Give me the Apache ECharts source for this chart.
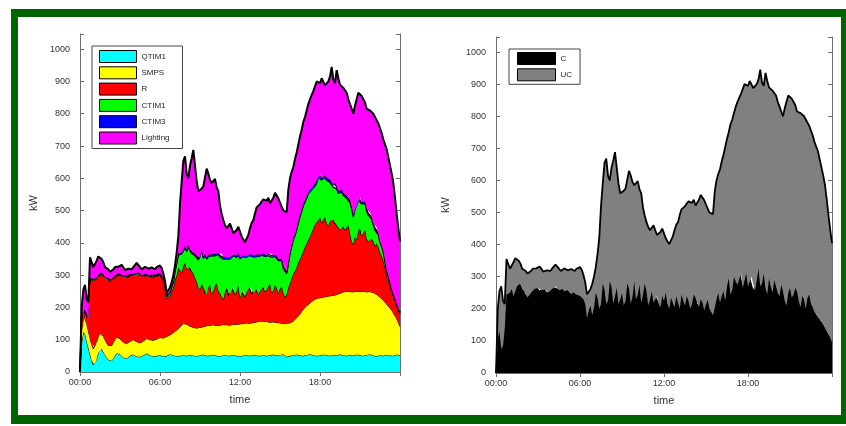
<!DOCTYPE html>
<html><head><meta charset="utf-8">
<script src="https://cdn.jsdelivr.net/npm/echarts@6/dist/echarts.min.js"></script>
<style>html,body{margin:0;padding:0;background:#fff}#c{width:846px;height:426px}</style>
</head><body><div id="c"></div>
<script>
// time categories: 7.5-minute samples over 24 h (193 samples, 00:00 .. 24:00)
const times = [];
for (let k = 0; k <= 192; k++) {
  const m = Math.floor(k * 7.5);
  times.push(String(Math.floor(m / 60)).padStart(2, '0') + ':' + String(m % 60).padStart(2, '0'));
}

// ---- left chart series (kW), one line per hour ----
const qtim1 = [
0,90,125,118,95,75,55,35, 22,25,40,60,75,72,62,53, 45,38,33,35,42,50,58,58, 55,50,45,42,42,46,50,53,
54,51,48,47,47,50,52,55, 57,54,52,50,48,49,50,52, 53,50,48,49,50,53,55,54, 52,50,49,49,50,51,52,51,
50,52,53,52,51,50,49,50, 52,53,54,52,50,50,51,52, 53,51,50,50,49,50,52,52, 51,50,50,51,53,52,50,50,
49,50,51,52,52,51,50,52, 53,52,51,50,50,51,52,51, 50,51,52,53,54,52,51,52, 53,54,55,51,47,48,50,51,
52,53,54,52,51,50,50,52, 53,54,55,53,52,51,50,50, 51,53,54,53,52,51,50,52, 53,52,51,53,55,54,52,51,
50,52,53,52,51,53,54,53, 52,51,50,52,53,54,55,53, 51,50,49,50,52,51,50,52, 53,52,51,50,50,52,54,53, 52];
const smps = [
0,40,55,57,55,53,50,50, 50,53,55,50,47,48,48,47, 45,44,45,47,50,51,50,49, 48,47,47,47,46,45,45,45,
46,46,46,44,43,43,44,45, 47,48,48,48,50,51,52,53, 54,56,57,58,60,59,60,64, 70,76,81,86,90,94,98,100,
98,93,89,87,87,86,87,87, 86,86,86,90,93,94,94,94, 93,94,94,94,96,96,95,95, 95,95,95,96,95,96,97,98,
100,100,99,99,100,100,101,100, 100,102,104,107,108,107,105,105, 106,104,102,101,101,102,102,100, 99,97,95,99,104,104,102,104,
106,110,114,122,129,138,145,148, 152,156,159,165,170,174,178,179, 179,178,178,180,182,184,186,184, 184,186,189,189,189,192,196,198,
200,198,196,196,197,196,196,197, 197,199,200,197,195,194,194,195, 195,193,191,186,180,176,172,164, 157,152,147,141,133,122,111,100, 88];
const rLoad = [
0,50,20,20,20,37,185,202, 211,210,195,187,178,183,186,190, 202,204,202,202,198,195,190,194, 197,200,204,202,205,206,203,203,
202,202,211,212,210,203,201,201, 195,193,196,201,196,197,196,197, 193,190,180,155,118,120,123,132, 140,159,170,187,175,163,180,187,
170,183,183,173,167,156,144,125, 117,136,122,103,97,118,125,96, 104,123,131,108,100,86,78,101, 114,93,95,115,117,92,103,120,
81,100,105,81,96,119,114,88, 92,108,103,83,92,112,108,92, 99,110,121,91,97,116,107,93, 106,114,95,82,89,110,123,135,
147,149,157,166,170,174,180,188, 193,200,206,214,223,233,237,241, 250,231,240,247,226,217,232,242, 235,222,215,206,196,212,204,191,
198,205,181,157,147,171,160,188, 196,172,180,191,164,157,169,164, 159,147,158,152,138,133,123,109, 90,81,70,59,52,48,40,39, 40];
const ctim1 = [
0,0,0,0,0,1,2,3, 3,2,2,3,3,4,4,3, 3,2,2,3,3,2,3,3, 2,3,3,4,4,3,3,2,
2,3,3,4,3,3,4,2, 3,3,2,2,3,3,3,2, 2,3,3,4,5,6,8,12, 15,25,35,40,50,58,45,48,
55,62,50,55,60,68,75,85, 95,100,90,115,110,95,85,118, 105,92,90,112,110,128,125,105, 90,118,110,92,95,118,105,95,
120,108,100,125,105,92,95,118, 110,95,100,118,108,92,95,110, 102,95,88,110,105,88,95,100, 85,80,75,85,65,72,90,98,
105,110,115,122,130,135,140,138, 140,142,138,132,125,118,120,135, 125,132,130,120,135,140,118,105, 100,118,112,105,115,100,95,102,
90,82,95,100,85,92,100,95, 90,98,92,82,85,80,70,62, 50,48,45,38,30,28,25,18, 12,10,8,7,6,5,5,5, 4];
const ctim3 = [
0,0,0,0,0,0,1,2, 2,1,1,2,2,2,2,1, 1,2,2,1,2,2,1,2, 2,1,2,2,1,2,2,1,
2,2,1,2,2,1,2,2, 1,2,2,1,2,2,1,2, 2,2,2,2,2,3,3,3, 3,4,4,5,5,4,4,5,
5,4,4,5,5,6,6,5, 5,6,6,5,5,6,6,5, 5,6,6,5,5,6,6,5, 5,6,6,5,5,6,6,5,
5,6,6,5,5,6,6,5, 5,6,6,5,5,6,6,5, 5,6,6,5,5,6,6,5, 5,6,6,5,5,6,6,5,
5,6,6,7,7,6,6,7, 7,7,6,7,7,8,8,7, 7,8,8,7,7,8,8,7, 7,8,8,7,7,7,6,7,
7,6,6,7,7,6,6,7, 7,6,6,7,7,6,6,5, 5,5,5,4,4,4,4,3, 3,3,3,2,2,2,2,2, 2];
const lighting = [
0,20,55,75,55,49,62,68, 37,44,52,56,57,41,38,31, 32,28,26,27,23,25,20,20, 26,31,25,19,20,18,19,14,
19,26,29,31,20,18,19,21, 22,20,22,22,21,16,23,24, 26,21,15,14,10,7,13,13, 20,16,31,53,150,220,276,277,
237,206,261,290,318,274,229,208, 200,187,217,215,275,252,234,220, 225,232,201,191,155,124,114,97, 90,86,104,86,65,64,79,82,
80,56,49,40,47,57,79,99, 110,129,146,152,157,160,169,167, 168,174,153,160,178,191,189,188, 177,161,174,176,185,225,229,227,
220,232,234,236,243,247,254,257, 265,271,281,287,293,301,307,293, 283,308,295,281,288,300,321,355, 326,309,360,350,328,320,327,326,
320,302,299,303,313,307,329,325, 320,329,322,306,311,329,316,326, 340,347,337,340,351,348,346,359, 375,367,361,356,342,311,278,246, 219];

// ---- right chart series (kW) ----
const cLoad = [
0,110,130,75,85,140,245,255, 250,262,240,255,270,285,280,262, 255,240,235,245,250,258,262,268, 265,255,258,265,260,250,252,258,
262,266,270,262,258,265,262,255, 255,258,250,245,252,248,245,242, 240,235,230,215,172,195,210,180, 205,250,235,200,215,280,260,215,
225,285,270,215,240,265,215,230, 250,210,225,280,265,215,240,285, 230,245,275,220,245,280,255,210, 230,255,220,240,240,215,205,240,
225,250,215,200,235,220,205,240, 220,200,245,225,210,240,225,200, 215,245,235,210,205,230,220,195, 215,228,200,190,180,205,230,250,
220,240,255,225,270,295,245,260, 300,285,275,315,310,265,290,310, 270,295,300,255,255,290,325,270, 280,310,265,245,295,270,250,290,
270,250,240,275,255,225,210,250, 265,235,245,265,255,225,205,240, 230,200,235,245,215,205,190,180, 175,165,160,150,140,130,120,110, 95];
const ucLoad = [
0,90,125,195,140,75,110,105, 75,73,105,103,92,65,60,63, 73,78,75,70,68,67,60,58, 65,77,68,51,58,70,70,60,
63,64,68,78,67,53,60,71, 70,62,72,79,68,70,80,88, 90,87,75,67,73,53,52,98, 95,80,135,220,305,310,395,453,
390,315,370,447,448,375,375,330, 305,358,350,300,365,400,355,300, 355,353,297,340,270,210,215,245, 215,193,240,205,190,213,235,210,
210,170,195,202,170,205,240,222, 250,292,265,290,310,288,310,330, 315,295,287,310,335,325,330,343, 310,284,300,308,315,360,370,370,
415,420,425,480,460,455,530,530, 510,545,570,543,560,620,610,595, 625,615,605,633,635,610,590,675, 625,585,670,665,595,615,630,585,
595,595,590,540,545,600,635,615, 597,620,605,570,560,595,605,565, 570,590,550,525,540,535,530,525, 515,500,480,465,445,410,370,335, 310];

const leftNames = ['QTIM1','SMPS','R','CTIM1','CTIM3','Lighting'];
const leftColors = ['#00FFFF','#FFFF00','#FF0000','#00FF00','#0000FF','#FF00FF'];
const leftLineW = [1, 1, 1.3, 1.3, 1.3, 2];
const leftData = [qtim1, smps, rLoad, ctim1, ctim3, lighting];
const rightNames = ['C','UC'];
const rightColors = ['#000000','#808080'];
const rightLineW = [1, 1.8];
const rightData = [cLoad, ucLoad];
const yMax = 1047;

const FONT = '"Liberation Sans", Arial, sans-serif';
const frameColor = '#6e6e6e';
const showIdx = (i) => i % 48 === 0 && i < 192;
const tickIdx = (i) => i % 48 === 0;

function xAxes(g) {
  return [
    { gridIndex: g, type: 'category', data: times, boundaryGap: false,
      axisLine: { lineStyle: { color: frameColor, width: 1 } },
      axisTick: { inside: true, length: 4, interval: tickIdx, lineStyle: { color: frameColor } },
      axisLabel: { interval: showIdx, fontSize: 9, color: '#333', margin: 6, fontFamily: FONT },
      name: 'time', nameLocation: 'middle', nameGap: 22,
      nameTextStyle: { fontSize: 11, color: '#333', fontFamily: FONT },
      splitLine: { show: false } },
    { gridIndex: g, type: 'category', data: times, boundaryGap: false, position: 'top',
      axisLine: { lineStyle: { color: frameColor, width: 1 } },
      axisTick: { inside: true, length: 4, interval: tickIdx, lineStyle: { color: frameColor } },
      axisLabel: { show: false }, splitLine: { show: false } }
  ];
}
function yAxes(g, gap) {
  return [
    { gridIndex: g, type: 'value', min: 0, max: yMax, interval: 100,
      axisLine: { show: true, lineStyle: { color: frameColor, width: 1 } },
      axisTick: { show: true, inside: true, length: 4, lineStyle: { color: frameColor } },
      axisLabel: { fontSize: 9, color: '#333', margin: 10, fontFamily: FONT,
        formatter: (v) => (v % 100 === 0 ? String(v) : '') },
      splitLine: { show: false },
      name: 'kW', nameLocation: 'middle', nameGap: gap,
      nameTextStyle: { fontSize: 11, color: '#333', fontFamily: FONT } },
    { gridIndex: g, type: 'value', min: 0, max: yMax, interval: 100, position: 'right',
      axisLine: { show: true, lineStyle: { color: frameColor, width: 1 } },
      axisTick: { show: true, inside: true, length: 4, lineStyle: { color: frameColor } },
      axisLabel: { show: false }, splitLine: { show: false } }
  ];
}

const series = [];
leftNames.forEach((n, k) => {
  series.push({
    name: n, type: 'line', stack: 'left', xAxisIndex: 0, yAxisIndex: 0,
    data: leftData[k], symbol: 'none', smooth: false,
    itemStyle: { color: leftColors[k] },
    lineStyle: { color: '#000', width: leftLineW[k] },
    areaStyle: { color: leftColors[k], opacity: 1 },
    z: 2 + k
  });
});
rightNames.forEach((n, k) => {
  series.push({
    name: n, type: 'line', stack: 'right', xAxisIndex: 2, yAxisIndex: 2,
    data: rightData[k], symbol: 'none',
    itemStyle: { color: rightColors[k] },
    lineStyle: { color: '#000', width: rightLineW[k] },
    areaStyle: { color: rightColors[k], opacity: 1 },
    z: 2 + k
  });
});

const legendBase = {
  orient: 'vertical', icon: 'rect', itemHeight: 12, itemGap: 3.3,
  borderColor: '#444', borderWidth: 1, backgroundColor: '#fff', selectedMode: false,
  textStyle: { fontSize: 8, color: '#222', fontFamily: FONT },
  itemStyle: { borderColor: '#000', borderWidth: 1 }
};

const chart = echarts.init(document.getElementById('c'), null, { renderer: 'canvas' });
chart.setOption({
  animation: false,
  backgroundColor: '#fff',
  grid: [
    { left: 80, top: 34, width: 320, height: 338, show: false },
    { left: 496, top: 37, width: 336, height: 336, show: false }
  ],
  xAxis: [...xAxes(0), ...xAxes(1)],
  yAxis: [...yAxes(0, 41), ...yAxes(1, 45)],
  legend: [
    Object.assign({}, legendBase, { data: leftNames, left: 92, top: 46, itemWidth: 37, padding: [4, 13, 4, 7] }),
    Object.assign({}, legendBase, { data: rightNames, left: 509, top: 49, itemWidth: 38, padding: [3, 8, 3, 8] })
  ],
  series: series,
  graphic: [
    { type: 'rect', shape: { x: 11, y: 9, width: 837, height: 8 }, style: { fill: '#006400' }, silent: true },
    { type: 'rect', shape: { x: 11, y: 415, width: 837, height: 9 }, style: { fill: '#006400' }, silent: true },
    { type: 'rect', shape: { x: 11, y: 9, width: 7, height: 415 }, style: { fill: '#006400' }, silent: true },
    { type: 'rect', shape: { x: 841, y: 9, width: 7, height: 415 }, style: { fill: '#006400' }, silent: true }
  ]
});
</script>
</body></html>
